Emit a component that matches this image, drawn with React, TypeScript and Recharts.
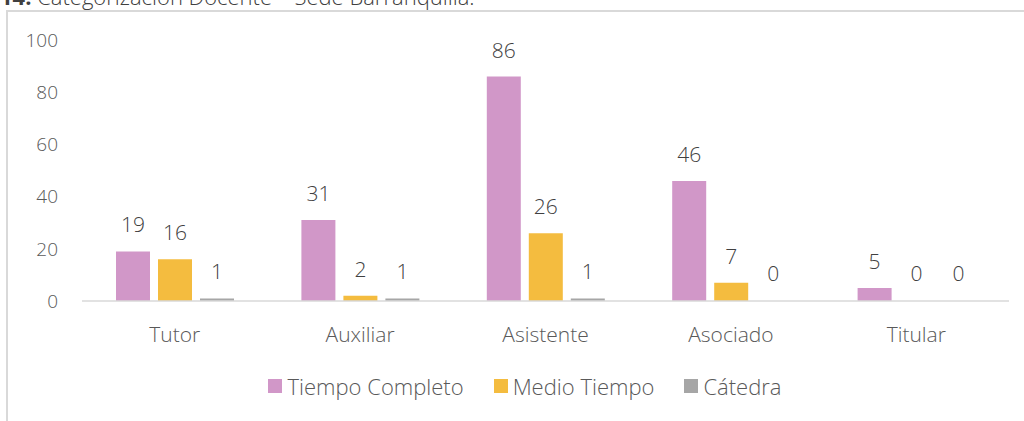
import React from 'react';
import { BarChart, Bar, XAxis, YAxis, Legend, LabelList, Cell } from 'recharts';

const categories = ['Tutor', 'Auxiliar', 'Asistente', 'Asociado', 'Titular'];
const tiempoCompleto = [19, 31, 86, 46, 5];
const medioTiempo = [16, 2, 26, 7, 0];
const catedra = [1, 1, 1, 0, 0];
const yTicks = [0, 20, 40, 60, 80, 100];

const series = [
  { key: 'tc', name: 'Tiempo Completo', color: '#d197c8', values: tiempoCompleto },
  { key: 'mt', name: 'Medio Tiempo', color: '#f4bc3f', values: medioTiempo },
  { key: 'ca', name: 'Cátedra', color: '#a6a6a6', values: catedra },
];

const data = categories.map((c, i) => ({
  name: c,
  tc: tiempoCompleto[i],
  mt: medioTiempo[i],
  ca: catedra[i],
}));

const FONT = '"Open Sans", "Noto Sans", sans-serif';

// legend drawn in series order (recharts reverses it otherwise)
const LegendContent = () => (
  <div style={{ display: 'flex', justifyContent: 'center', fontFamily: FONT, fontWeight: 300, fontSize: 22, color: '#595959' }}>
    {series.map((s, i) => (
      <div key={s.key} style={{ display: 'flex', alignItems: 'center', marginRight: i < series.length - 1 ? 30 : 0 }}>
        <span style={{ display: 'inline-block', width: 14, height: 14, background: s.color, marginRight: 5 }} />
        <span>{s.name}</span>
      </div>
    ))}
  </div>
);

const App = () => {
  return (
    <div style={{ position: 'absolute', left: 0, top: 0, width: 1024, height: 421, overflow: 'hidden', background: '#fff' }}>
      <div style={{ position: 'absolute', left: 6, top: 10, width: 1100, height: 500, border: '2px solid #d9d9d9' }} />
      <svg style={{ position: 'absolute', left: 0, top: 0 }} width={500} height={20}>
        <text x={0} y={5} fontFamily={FONT} fontSize={22} fill="#404040">
          <tspan fontWeight={700}>14.</tspan>
          <tspan fontWeight={300}> Categorización Docente – Sede Barranquilla.</tspan>
        </text>
      </svg>
      <div style={{ position: 'absolute', left: 0, top: 0 }}>
        <BarChart width={1024} height={421} data={data} margin={{ top: 40, right: 15, bottom: 90, left: 22 }} barSize={34} barGap={8}>
          <XAxis
            dataKey="name"
            height={30}
            tickLine={false}
            tickSize={0}
            tickMargin={26}
            axisLine={{ stroke: '#d9d9d9', strokeWidth: 1.5 }}
            tick={{ fill: '#595959', fontSize: 21, fontFamily: FONT, fontWeight: 300 }}
          />
          <YAxis
            width={60}
            domain={[0, 100]}
            ticks={yTicks}
            axisLine={false}
            tickLine={false}
            tickSize={0}
            tickMargin={24}
            tick={{ fill: '#595959', fontSize: 19, fontFamily: FONT, fontWeight: 300 }}
          />
          <Legend
            layout="horizontal"
            verticalAlign="middle"
            align="center"
            wrapperStyle={{ top: 371, left: 0, width: 1050 }}
            content={<LegendContent />}
          />
          {series.map((s) => (
            <Bar key={s.key} dataKey={s.key} name={s.name} fill={s.color} minPointSize={1} isAnimationActive={false}>
              {s.values.map((v, i) => (
                <Cell key={i} fill={v === 0 ? 'transparent' : s.color} />
              ))}
              <LabelList dataKey={s.key} position="top" offset={19} fill="#404040" fontSize={21} fontFamily={FONT} fontWeight={300} />
            </Bar>
          ))}
        </BarChart>
      </div>
    </div>
  );
};

export default App;
